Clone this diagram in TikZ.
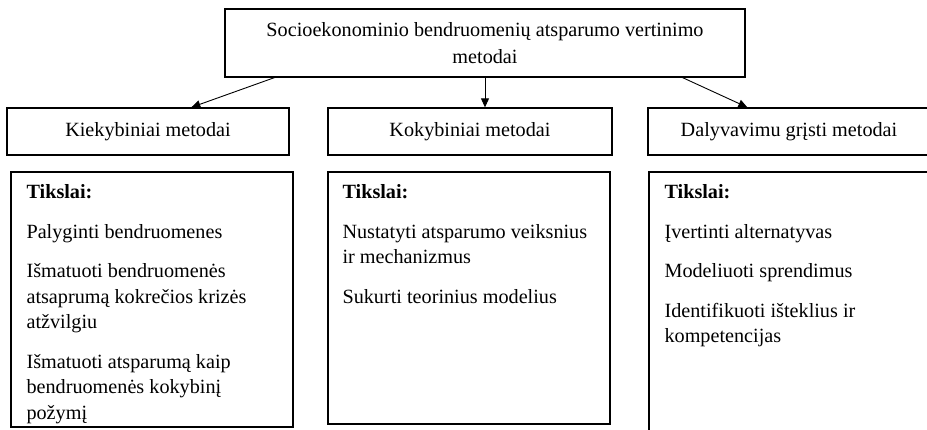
\documentclass[tikz,border=0pt]{standalone}
\usepackage{fontspec}
\setmainfont{Liberation Serif}
\usetikzlibrary{arrows.meta}
\begin{document}
\begin{tikzpicture}[x=1pt,y=-1pt,
  frame/.style={draw=black, line width=1.3pt, inner sep=0pt},
  headbox/.style={frame, minimum width=282pt, minimum height=47pt,
    font=\fontsize{20.2}{25}\selectfont},
  goalbox/.style={frame, minimum width=282pt},
  goaltext/.style={anchor=north west, inner sep=0pt, align=left,
    font=\fontsize{20.2}{25.5}\selectfont},
  link/.style={draw=black, line width=0.9pt,
    -{Triangle[length=9pt,width=8pt]}}]
  \clip (0,0) rectangle (927,429);
  \fill[white] (0,0) rectangle (927,429);

  % main heading
  \node[frame, minimum width=520pt, minimum height=68pt, align=center,
    font=\fontsize{20.2}{27.5}\selectfont] (top) at (485,43)
    {Socioekonominio bendruomenių atsparumo vertinimo\\metodai};

  % method groups
  \node[headbox] (qh) at (148,131.5) {Kiekybiniai metodai};
  \node[headbox, minimum width=284pt] (kh) at (470,131.5) {Kokybiniai metodai};
  \node[headbox] (dh) at (789,131.5) {Dalyvavimu grįsti metodai};

  % goal boxes
  \node[goalbox, minimum height=255pt] (qg) at (152,299.5) {};
  \node[goalbox, minimum height=252pt] (kg) at (469,298) {};
  \node[goalbox, minimum width=286pt, minimum height=268pt] (dg) at (792,306) {};

  \node[goaltext] (qt) at ([xshift=16pt,yshift=-13pt]qg.north west)
    {\textbf{Tikslai:}\\[14pt]
     Palyginti bendruomenes\\[14pt]
     Išmatuoti bendruomenės\\
     atsaprumą kokrečios krizės\\
     atžvilgiu\\[14pt]
     Išmatuoti atsparumą kaip\\
     bendruomenės kokybinį\\
     požymį};
  \node[goaltext] (kt) at ([xshift=15pt,yshift=-13pt]kg.north west)
    {\textbf{Tikslai:}\\[14pt]
     Nustatyti atsparumo veiksnius\\
     ir mechanizmus\\[14pt]
     Sukurti teorinius modelius};
  \node[goaltext] (dt) at ([xshift=16pt,yshift=-13pt]dg.north west)
    {\textbf{Tikslai:}\\[14pt]
     Įvertinti alternatyvas\\[14pt]
     Modeliuoti sprendimus\\[14pt]
     Identifikuoti išteklius ir\\
     kompetencijas};

  % connectors
  \draw[link] ([xshift=50pt]top.south west) -- ([xshift=185pt]qh.north west);
  \draw[link] (top.south) -- (top.south |- kh.north);
  \draw[link] ([xshift=-63pt]top.south east) -- ([xshift=100pt]dh.north west);
\end{tikzpicture}
\end{document}
